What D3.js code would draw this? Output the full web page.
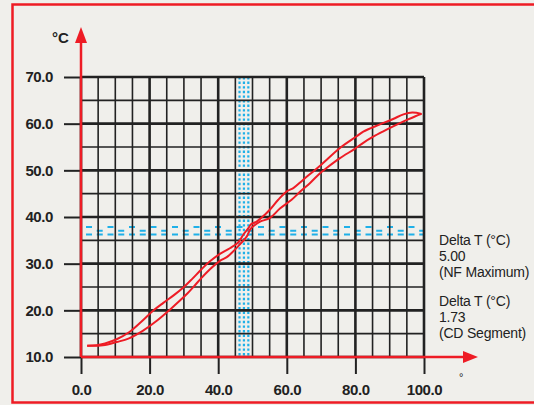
<!DOCTYPE html>
<html>
<head>
<meta charset="utf-8">
<script src="https://cdn.jsdelivr.net/npm/d3@7"></script>
<style>
  html, body { margin: 0; padding: 0; background: #f0efeb; }
  svg { display: block; }
  text { font-family: "Liberation Sans", Arial, sans-serif; fill: #222; }
</style>
</head>
<body>
<svg id="chart" width="534" height="405"></svg>
<script>
// Axis ticks
const xTicks = [0, 20, 40, 60, 80, 100];
const yTicks = [10, 20, 30, 40, 50, 60, 70];
const xGrid = d3.range(0, 101, 5);
const yGrid = d3.range(10, 71, 5);

// Highlighted bands (x range and y range)
const xBand = [45, 50];
const yBand = [35, 40];

// Two branches of the temperature loop
const upperCurve = [
  [1.8, 12.4], [4.5, 12.5], [7, 12.9], [10.4, 13.8], [14, 15.3], [17.5, 17.5],
  [21, 19.9], [24, 21.6], [27, 23.2], [30, 25.0], [32.5, 26.8], [35, 28.7],
  [37.6, 30.5], [40.5, 32.1], [43.4, 33.3], [45.9, 34.6], [47.3, 36.2], [48.8, 37.6],
  [49.5, 38.4], [51.2, 39.0], [53.6, 40.5], [55.1, 41.6], [57.5, 43.7], [60, 45.5],
  [61.9, 46.2], [64.8, 48.0], [69.7, 51.0], [75.5, 54.8], [80.4, 57.3], [82.3, 58.3],
  [87, 59.8], [91, 61.0], [94, 62.0], [96.6, 62.4], [99.3, 62.1]
];
const lowerCurve = [
  [1.8, 12.4], [6.4, 12.5], [10.4, 13.2], [14, 14.0], [18, 15.6], [22, 17.7],
  [26, 20.2], [29, 22.2], [31, 23.6], [33, 25.2], [35.2, 27.0], [37.6, 28.8],
  [40.5, 30.6], [42.5, 31.4], [43.9, 32.3], [46.4, 34.2], [48.3, 35.8], [49.3, 37.3],
  [50.2, 38.0], [52.2, 39.0], [55.1, 39.8], [58, 41.8], [61.4, 43.7], [64, 45.5],
  [66.8, 47.3], [69.7, 49.4], [71.6, 50.5], [75.5, 52.6], [79.8, 54.6], [82.3, 55.9],
  [85.2, 57.2], [88, 58.3], [91, 59.4], [95, 60.8], [97.5, 61.6], [99.3, 62.1]
];

// Annotation blocks
const notes = [
  ["Delta T (°C)", "5.00", "(NF Maximum)"],
  ["Delta T (°C)", "1.73", "(CD Segment)"]
];

const RED = "#ee1c25";
const BLUE = "#1fb0e8";
const INK = "#222";

const svg = d3.select("#chart");
const x = d3.scaleLinear().domain([0, 100]).range([81, 424]);
const y = d3.scaleLinear().domain([10, 70]).range([357, 77]);

// Frame
svg.append("rect")
  .attr("x", 12.5).attr("y", 4.5).attr("width", 540).attr("height", 398)
  .attr("fill", "#f0efeb").attr("stroke", RED).attr("stroke-width", 2.5);

// Vertical dotted band
const bx = (x(xBand[0]) + x(xBand[1])) / 2;
svg.append("g").selectAll("line")
  .data([-4.4, 0, 4.4])
  .join("line")
  .attr("x1", d => bx + d).attr("x2", d => bx + d)
  .attr("y1", y(70)).attr("y2", y(10))
  .attr("stroke", BLUE).attr("stroke-width", 2.2)
  .attr("stroke-dasharray", "2.4,2.2");

// Horizontal dashed band
const by = y(yBand[1]);
const rows = [
  { dy: 10, dash: "6,15.5", off: 0 },
  { dy: 13.8, dash: "6,15.5", off: -10.7 },
  { dy: 17.6, dash: "6,4.75", off: 0 }
];
svg.append("g").selectAll("line")
  .data(rows)
  .join("line")
  .attr("x1", x(0) + 5).attr("x2", x(100))
  .attr("y1", d => by + d.dy).attr("y2", d => by + d.dy)
  .attr("stroke", BLUE).attr("stroke-width", 2)
  .attr("stroke-dasharray", d => d.dash)
  .attr("stroke-dashoffset", d => d.off);

// Grid
const grid = svg.append("g");
grid.selectAll(".vg")
  .data(xGrid)
  .join("line")
  .attr("x1", d => x(d)).attr("x2", d => x(d))
  .attr("y1", y(70)).attr("y2", y(10))
  .attr("stroke", INK)
  .attr("stroke-width", d => d % 20 === 0 ? 2.6 : 1.6);
grid.selectAll(".hg")
  .data(yGrid)
  .join("line")
  .attr("x1", x(0)).attr("x2", x(100))
  .attr("y1", d => y(d)).attr("y2", d => y(d))
  .attr("stroke", INK)
  .attr("stroke-width", d => d % 10 === 0 ? 2.6 : 1.6);

// Axes (ticks and labels)
const fmt = d3.format(".1f");
const xAxis = svg.append("g")
  .attr("transform", `translate(0,${y(10)})`)
  .call(d3.axisBottom(x).tickValues(xTicks).tickFormat(fmt).tickSize(17).tickPadding(10));
const yAxis = svg.append("g")
  .attr("transform", `translate(${x(0)},0)`)
  .call(d3.axisLeft(y).tickValues(yTicks).tickFormat(fmt).tickSize(17).tickPadding(11));
[xAxis, yAxis].forEach(g => {
  g.select(".domain").remove();
  g.selectAll(".tick line").attr("stroke", INK).attr("stroke-width", 2);
  g.selectAll(".tick text")
    .attr("fill", INK)
    .style("font-family", "'Liberation Sans', Arial, sans-serif")
    .style("font-size", "15px")
    .style("font-weight", "bold")
    .style("letter-spacing", "-0.4px");
});

// Red axis lines with arrowheads
svg.append("line")
  .attr("x1", x(0)).attr("x2", 466)
  .attr("y1", y(10)).attr("y2", y(10))
  .attr("stroke", RED).attr("stroke-width", 2.5);
svg.append("path")
  .attr("d", `M463,${y(10) - 6}L478,${y(10)}L463,${y(10) + 6}Z`)
  .attr("fill", RED);
svg.append("line")
  .attr("x1", x(0)).attr("x2", x(0))
  .attr("y1", y(10)).attr("y2", 40)
  .attr("stroke", RED).attr("stroke-width", 2.5);
svg.append("path")
  .attr("d", `M${x(0) - 6},43L${x(0)},27L${x(0) + 6},43Z`)
  .attr("fill", RED);

// Axis unit labels
svg.append("text")
  .attr("x", 52).attr("y", 43)
  .style("font-size", "15px").style("font-weight", "bold")
  .text("°C");
svg.append("text")
  .attr("x", 459).attr("y", 381)
  .style("font-size", "11px")
  .text("°");

// Loop curves
const line = d3.line()
  .x(d => x(d[0])).y(d => y(d[1]))
  .curve(d3.curveCatmullRom.alpha(0.5));
svg.append("g").selectAll("path")
  .data([upperCurve, lowerCurve])
  .join("path")
  .attr("d", line)
  .attr("fill", "none")
  .attr("stroke", RED)
  .attr("stroke-width", 2)
  .attr("stroke-linejoin", "round");

// Annotations
const noteTop = [245, 306];
notes.forEach((block, i) => {
  svg.append("text")
    .attr("x", 439).attr("y", noteTop[i])
    .style("font-size", "14px")
    .style("letter-spacing", "-0.2px")
    .selectAll("tspan")
    .data(block)
    .join("tspan")
    .attr("x", 439)
    .attr("dy", (d, j) => j === 0 ? 0 : 16)
    .text(d => d);
});
</script>
</body>
</html>
